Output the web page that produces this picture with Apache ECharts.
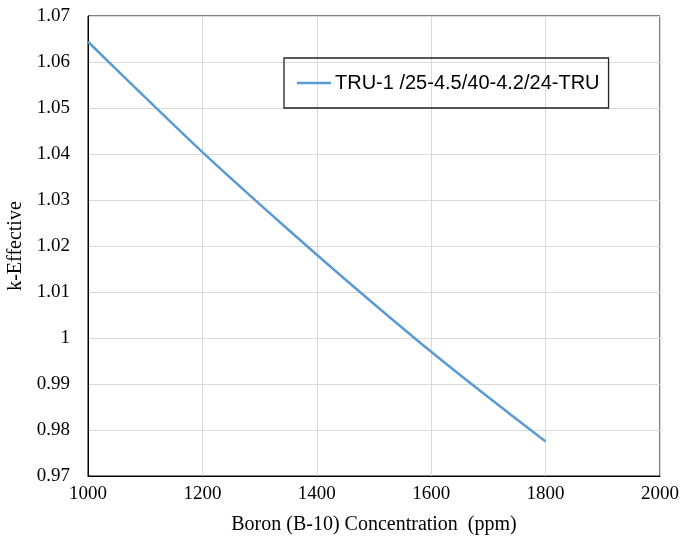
<!DOCTYPE html>
<html>
<head>
<meta charset="utf-8">
<script src="https://cdn.jsdelivr.net/npm/echarts@6/dist/echarts.min.js"></script>
<style>
html,body{margin:0;padding:0;background:#fff;}
#chart{width:681px;height:543px;}
</style>
</head>
<body>
<div id="chart"></div>
<script>
var seriesName = 'TRU-1 /25-4.5/40-4.2/24-TRU';
var boron = [1000, 1100, 1200, 1300, 1400, 1500, 1600, 1700, 1800];
var kEff = [1.0644, 1.0523, 1.0404, 1.0291, 1.0181, 1.0074, 0.9970, 0.9871, 0.9775];
var xTitle = 'Boron (B-10) Concentration  (ppm)';
var yTitle = 'k-Effective';

var chart = echarts.init(document.getElementById('chart'));
var serif = 'Liberation Serif';
chart.setOption({
  animation: false,
  backgroundColor: '#fff',
  grid: {left: 88, right: 21, top: 16, bottom: 67, show: true, borderColor: '#000', borderWidth: 1,
    containLabel: false, outerBoundsMode: 'none'},
  legend: {
    left: 284, top: 58,
    padding: [15, 9, 15, 13],
    borderColor: '#222', borderWidth: 1.3,
    icon: 'rect',
    itemWidth: 34, itemHeight: 2.5, itemGap: 4,
    itemStyle: {color: '#5b9bd5'},
    textStyle: {fontFamily: 'Liberation Sans', fontSize: 20, color: '#000', padding: [0,0,0,-1]},
    data: [seriesName]
  },
  xAxis: {
    type: 'value', min: 1000, max: 2000, interval: 200,
    name: xTitle, nameLocation: 'middle', nameGap: 39,
    nameTextStyle: {fontFamily: serif, fontSize: 20, color: '#000'},
    axisLine: {show: true, lineStyle: {color: '#000', width: 1}},
    axisTick: {show: false},
    axisLabel: {fontFamily: serif, fontSize: 19, color: '#000', margin: 9,
      formatter: function(v){ return String(v); }},
    splitLine: {show: true, lineStyle: {color: '#d9d9d9', width: 1}}
  },
  yAxis: {
    type: 'value', min: 0.97, max: 1.07, interval: 0.01,
    name: yTitle, nameLocation: 'middle', nameGap: 57,
    nameTextStyle: {fontFamily: serif, fontSize: 20, color: '#000'},
    axisLine: {show: true, lineStyle: {color: '#000', width: 1}},
    axisTick: {show: false},
    axisLabel: {fontFamily: serif, fontSize: 19, color: '#000', margin: 18,
      formatter: function(v){ return String(parseFloat(v.toFixed(2))); }},
    splitLine: {show: true, lineStyle: {color: '#d9d9d9', width: 1}}
  },
  series: [{
    name: seriesName,
    type: 'line',
    symbol: 'none',
    smooth: 0.3,
    lineStyle: {color: '#5b9bd5', width: 2.5},
    itemStyle: {color: '#5b9bd5'},
    data: boron.map(function(b, i){ return [b, kEff[i]]; })
  }]
});
</script>
</body>
</html>
